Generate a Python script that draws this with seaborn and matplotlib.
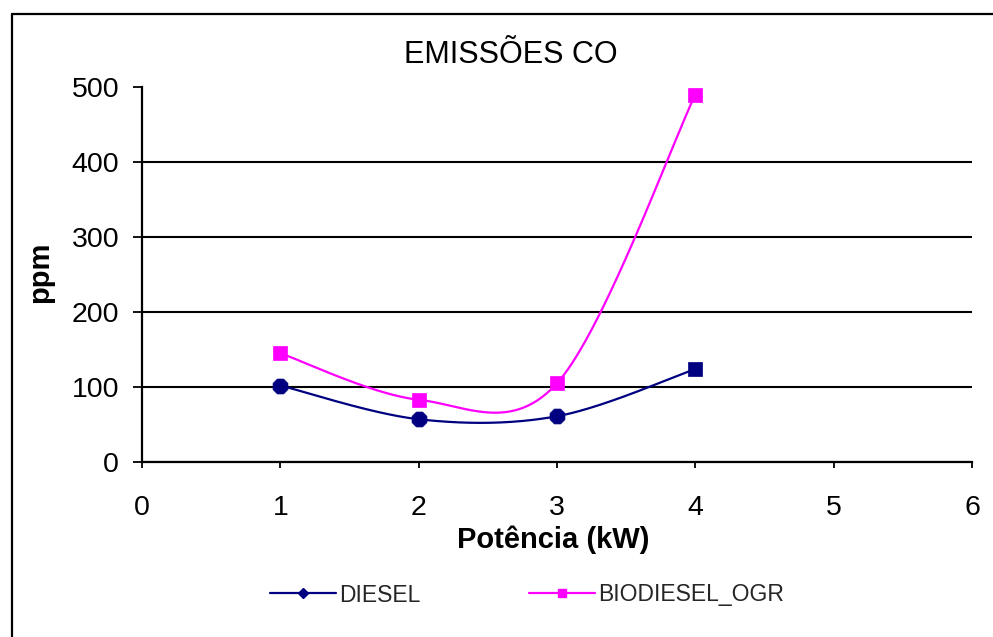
import numpy as np
import pandas as pd
import matplotlib
matplotlib.use("Agg")
import matplotlib.pyplot as plt
from matplotlib.lines import Line2D
import seaborn as sns

# Engine power (kW) and CO emissions (ppm)
power_kw = [1, 2, 3, 4]
diesel_ppm = [102, 57, 61, 124]
biodiesel_ogr_ppm = [145, 83, 105, 490]

x_ticks = [0, 1, 2, 3, 4, 5, 6]
y_ticks = [0, 100, 200, 300, 400, 500]

series_names = ["DIESEL", "BIODIESEL_OGR"]
series_colors = {"DIESEL": "#000080", "BIODIESEL_OGR": "#FF00FF"}
diesel_markers = ["8", "8", "8", "s"]


def smooth_curve(xs, ys, n=80):
    """Bezier smoothing through the points (control points at +/- 1/6 of the chord
    between neighbours, end points duplicated)."""
    pts = np.column_stack([xs, ys]).astype(float)
    parts = []
    for i in range(len(pts) - 1):
        p0 = pts[i - 1] if i > 0 else pts[i]
        p1 = pts[i]
        p2 = pts[i + 1]
        p3 = pts[i + 2] if i + 2 < len(pts) else pts[i + 1]
        c1 = p1 + (p2 - p0) / 6.0
        c2 = p2 - (p3 - p1) / 6.0
        t = np.linspace(0, 1, n)[:, None]
        seg = ((1 - t) ** 3) * p1 + 3 * ((1 - t) ** 2) * t * c1 \
            + 3 * (1 - t) * (t ** 2) * c2 + (t ** 3) * p2
        parts.append(seg if i == 0 else seg[1:])
    return np.vstack(parts)


sns.set_theme(style="white")
plt.rcParams["font.family"] = ["Liberation Sans", "DejaVu Sans"]

W, H = 993, 637
fig = plt.figure(figsize=(W / 100, H / 100), dpi=100)
ax = fig.add_axes([142 / W, 1 - 462 / H, (972 - 142) / W, (462 - 87) / H])

# smoothed lines
for name, vals in zip(series_names, [diesel_ppm, biodiesel_ogr_ppm]):
    curve = smooth_curve(power_kw, vals)
    df = pd.DataFrame({"x": curve[:, 0], "y": curve[:, 1]})
    sns.lineplot(data=df, x="x", y="y", ax=ax, sort=False, estimator=None,
                 color=series_colors[name], linewidth=1.6, zorder=3)

# point markers
diesel_df = pd.DataFrame({"x": power_kw, "y": diesel_ppm, "m": diesel_markers})
for mk, sub in diesel_df.groupby("m"):
    sns.scatterplot(data=sub, x="x", y="y", ax=ax, marker=mk,
                    s=135 if mk == "8" else 110, color=series_colors["DIESEL"],
                    edgecolor=series_colors["DIESEL"], linewidth=0.5, zorder=4)
sns.scatterplot(x=power_kw, y=biodiesel_ogr_ppm, ax=ax, marker="s", s=115,
                color=series_colors["BIODIESEL_OGR"],
                edgecolor=series_colors["BIODIESEL_OGR"], linewidth=0.5, zorder=4)

ax.set_xlim(x_ticks[0], x_ticks[-1])
ax.set_ylim(y_ticks[0], y_ticks[-1])
ax.set_xticks(x_ticks)
ax.set_yticks(y_ticks)
ax.set_xticklabels([str(v) for v in x_ticks])
ax.set_yticklabels([str(v) for v in y_ticks])

ax.grid(axis="y", color="black", linewidth=1.5)
ax.grid(axis="x", visible=False)
ax.yaxis.get_gridlines()[-1].set_visible(False)
ax.set_axisbelow(True)

for side in ["top", "right"]:
    ax.spines[side].set_visible(False)
for side in ["left", "bottom"]:
    ax.spines[side].set_color("black")
    ax.spines[side].set_linewidth(1.6)

ax.tick_params(axis="x", direction="out", length=4.5, width=1.3, color="black",
               labelsize=20.5, pad=19, bottom=True, labelcolor="black")
ax.tick_params(axis="y", direction="out", length=6.5, width=1.3, color="black",
               labelsize=20.5, pad=10, left=True, labelcolor="black")

ax.set_xlabel("Potência (kW)", fontsize=21, fontweight="bold", color="black")
ax.set_ylabel("ppm", fontsize=21, fontweight="bold", color="black")
ax.xaxis.set_label_coords((553 - 142) / 830, (462 - 540) / 375)
ax.xaxis.label.set_va("center")
ax.yaxis.set_label_coords((40 - 142) / 830, (462 - 272) / 375)
ax.yaxis.label.set_va("center")

fig.text(511 / W, 1 - 55 / H, "EMISSÕES CO", fontsize=22, ha="center", va="center",
         color="black")

handles = [
    Line2D([], [], color=series_colors["DIESEL"], lw=1.6, marker="D", markersize=5),
    Line2D([], [], color=series_colors["BIODIESEL_OGR"], lw=1.6, marker="s", markersize=6),
]
fig.legend(handles, series_names, loc="center", bbox_to_anchor=(527 / W, 1 - 595 / H),
           ncol=2, frameon=False, fontsize=16.5, handlelength=2.9, handletextpad=0.15,
           columnspacing=4.7)

# chart border
fig.add_artist(Line2D([12 / W, 12 / W], [0, 1 - 14 / H], transform=fig.transFigure,
                      color="black", lw=1.6))
fig.add_artist(Line2D([12 / W, 1], [1 - 14 / H, 1 - 14 / H], transform=fig.transFigure,
                      color="black", lw=1.6))

fig.savefig("out.png", dpi=100, facecolor="white")
